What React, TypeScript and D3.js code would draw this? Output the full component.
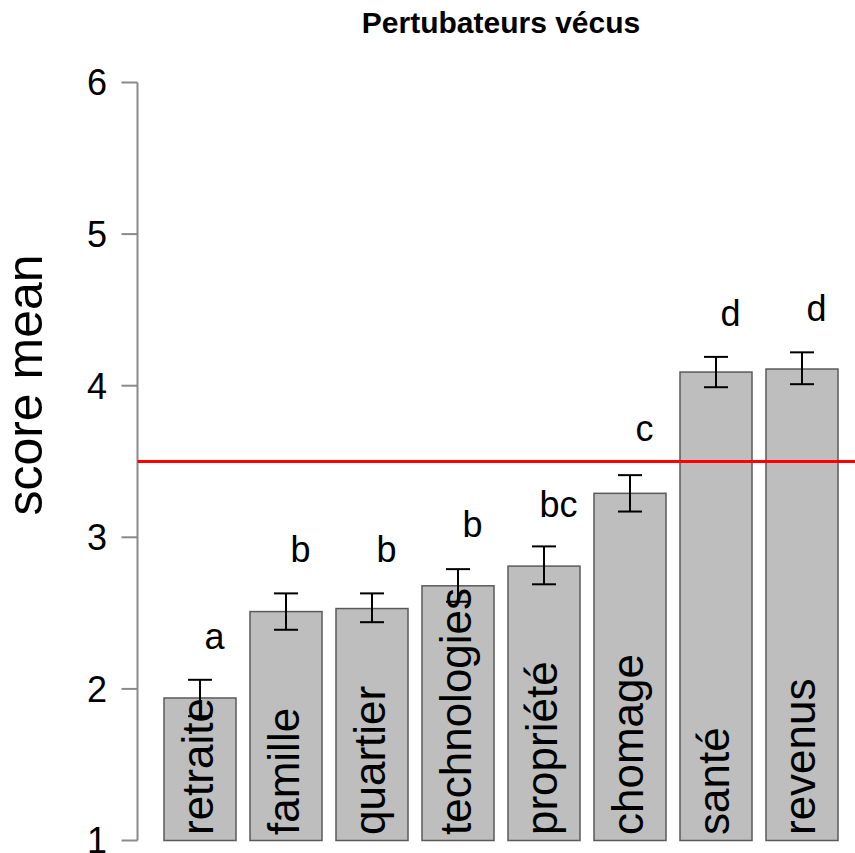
import React from "react";
import * as d3 from "d3";

const categories = ["retraite", "famille", "quartier", "technologies", "propriété", "chomage", "santé", "revenus"];
const means = [1.94, 2.51, 2.53, 2.68, 2.81, 3.29, 4.09, 4.11];
const lowers = [1.82, 2.39, 2.44, 2.575, 2.69, 3.17, 3.99, 4.01];
const uppers = [2.06, 2.63, 2.63, 2.79, 2.94, 3.41, 4.19, 4.22];
const groupLetters = ["a", "b", "b", "b", "bc", "c", "d", "d"];
const letterPositions = [2.35, 2.92, 2.92, 3.09, 3.22, 3.72, 4.48, 4.51];
const yTicks = [1, 2, 3, 4, 5, 6];
const threshold = 3.5;
const title = "Pertubateurs vécus";
const yLabel = "score mean";

const W = 855;
const H = 853;
const FONT = "'Liberation Sans', Arial, Helvetica, sans-serif";

export default function App() {
  const x = d3.scaleBand<string>().domain(categories).range([164, 838]).paddingInner(14 / 86).paddingOuter(0);
  const y = d3.scaleLinear().domain([1, 6]).range([840.5, 82.5]);
  const axisX = 137.5;
  const bw = x.bandwidth();

  return (
    <svg width={W} height={H} style={{ position: "absolute", left: 0, top: 0, background: "#fff" }} fontFamily={FONT}>
      <rect x={0} y={0} width={W} height={H} fill="#fff" />
      <text x={501} y={33} textAnchor="middle" fontSize={30} fontWeight="bold" fill="#000">{title}</text>
      {/* y axis */}
      <line x1={axisX} x2={axisX} y1={y(6)} y2={y(1)} stroke="#8a8a8a" strokeWidth={2} />
      {yTicks.map((t) => (
        <g key={t}>
          <line x1={axisX - 16} x2={axisX} y1={y(t)} y2={y(t)} stroke="#8a8a8a" strokeWidth={2} />
          <text x={107} y={y(t)} dy="0.36em" textAnchor="end" fontSize={36} fill="#000">{t}</text>
        </g>
      ))}
      <text transform={`translate(42,385) rotate(-90)`} textAnchor="middle" fontSize={50} fill="#000">{yLabel}</text>
      {/* bars */}
      {categories.map((c, i) => {
        const x0 = x(c) as number;
        const cx = x0 + bw / 2;
        return (
          <g key={c}>
            <rect x={x0} y={y(means[i])} width={bw} height={y(1) - y(means[i])} fill="#bebebe" stroke="#5a5a5a" strokeWidth={1.5} />
            <text transform={`translate(${cx + 13},835) rotate(-90)`} textAnchor="start" fontSize={44} fill="#000">{c}</text>
          </g>
        );
      })}
      {/* error bars */}
      {categories.map((c, i) => {
        const cx = (x(c) as number) + bw / 2;
        return (
          <g key={c + "-err"} stroke="#000" strokeWidth={2}>
            <line x1={cx} x2={cx} y1={y(lowers[i])} y2={y(uppers[i])} />
            <line x1={cx - 12} x2={cx + 12} y1={y(lowers[i])} y2={y(lowers[i])} />
            <line x1={cx - 12} x2={cx + 12} y1={y(uppers[i])} y2={y(uppers[i])} />
          </g>
        );
      })}
      {/* threshold line */}
      <line x1={axisX} x2={W} y1={y(threshold)} y2={y(threshold)} stroke="#ff0000" strokeWidth={3} />
      {/* letters */}
      {categories.map((c, i) => {
        const cx = (x(c) as number) + bw / 2;
        return (
          <text key={c + "-l"} x={cx + 14.5} y={y(letterPositions[i])} dy="0.36em" textAnchor="middle" fontSize={36} fill="#000">{groupLetters[i]}</text>
        );
      })}
    </svg>
  );
}
